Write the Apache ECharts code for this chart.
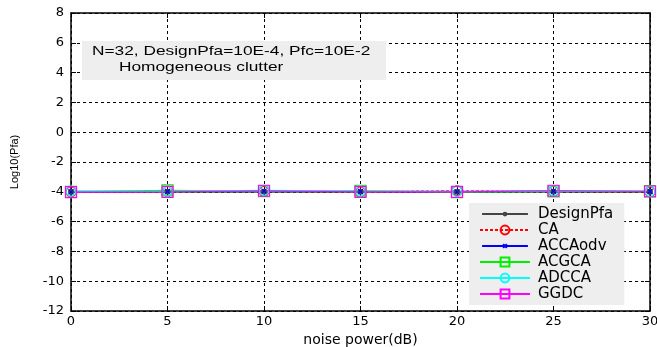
<!DOCTYPE html>
<html><head><meta charset="utf-8">
<script src="https://cdn.jsdelivr.net/npm/echarts@6/dist/echarts.min.js"></script>
<style>html,body{margin:0;padding:0;background:#fff}#c{width:657px;height:347px}</style>
</head><body><div id="c"></div>
<script>
const noisePower = [0, 5, 10, 15, 20, 25, 30];
const designPfa = [-4, -4, -4, -4, -4, -4, -4];
const caVals = [-4.0, -3.98, -3.97, -4.0, -3.93, -3.97, -4.0];
const accaodvVals = [-4.0, -3.98, -3.95, -3.98, -4.0, -3.95, -3.98];
const acgcaVals = [-4.0, -3.9, -3.95, -3.93, -4.02, -3.97, -3.95];
const adccaVals = [-3.95, -3.97, -3.9, -3.95, -3.97, -3.93, -3.97];
const ggdcVals = [-4.02, -4.0, -3.93, -4.0, -4.0, -3.93, -3.98];
const yTicks = [-12, -10, -8, -6, -4, -2, 0, 2, 4, 6, 8];
const xTicks = [0, 5, 10, 15, 20, 25, 30];
const infoLines = ['N=32, DesignPfa=10E-4, Pfc=10E-2', 'Homogeneous clutter'];

const FONT = '"Liberation Sans", Arial, sans-serif';
const WFONT = '"DejaVu Sans", sans-serif';
const pair = (xs, ys) => xs.map((x, i) => [x, ys[i]]);
const xMark = 'path://M0,0L10,10M10,0L0,10';
const dotLegendIcon = 'path://M25,0M25,12M0,6L50,6M23.5,6a1.5,1.5 0 1,0 3,0a1.5,1.5 0 1,0 -3,0Z';
const xLegendIcon = 'path://M25,0M25,12M0,6L50,6M23,4L27,8M27,4L23,8';

function mk(name, vals, color, symbol, size, dashed, filled, width) {
  return {
    name, type: 'line', data: pair(noisePower, vals),
    symbol, symbolSize: size, showSymbol: true,
    lineStyle: { color, width: width || 1.2, type: dashed ? [3, 2] : 'solid' },
    itemStyle: { color: filled ? color : 'none', borderColor: color, borderWidth: width || 1.2 },
    emphasis: { disabled: true }, animation: false, z: 3
  };
}

const chart = echarts.init(document.getElementById('c'));
const axisCommon = {
  axisLine: { show: true, onZero: false, lineStyle: { color: '#000', width: 1.5 } },
  axisTick: { show: true, inside: true, length: 5, lineStyle: { color: '#000' } },
  splitLine: { show: false }
};
chart.setOption({
  animation: false,
  backgroundColor: '#fff',
  grid: { left: 71, right: 7, top: 13, bottom: 36, outerBoundsMode: 'none', containLabel: false },
  xAxis: [
    Object.assign({}, axisCommon, {
      type: 'value', min: 0, max: 30, interval: 5,
      name: 'noise power(dB)', nameLocation: 'middle', nameGap: 18,
      nameTextStyle: { fontFamily: WFONT, fontSize: 14, color: '#000' },
      axisLabel: { fontFamily: WFONT, fontSize: 13, color: '#000', margin: 4,
        formatter: v => xTicks.includes(v) ? String(v) : '' },
      splitLine: { show: true, lineStyle: { color: '#000', type: [3, 3], width: 1 } }
    }),
    Object.assign({}, axisCommon, {
      type: 'value', min: 0, max: 30, interval: 5, position: 'top',
      axisLabel: { show: false }
    })
  ],
  yAxis: [
    Object.assign({}, axisCommon, {
      type: 'value', min: -12, max: 8, interval: 2,
      name: 'Log10(Pfa)', nameLocation: 'middle', nameGap: 51,
      nameTextStyle: { fontFamily: FONT, fontSize: 11, color: '#000' },
      axisLabel: { fontFamily: WFONT, fontSize: 13, color: '#000', margin: 7,
        formatter: v => yTicks.includes(v) ? String(v) : '' },
      splitLine: { show: true, lineStyle: { color: '#000', type: [3, 3], width: 1 } }
    }),
    Object.assign({}, axisCommon, {
      type: 'value', min: -12, max: 8, interval: 2, position: 'right',
      axisLabel: { show: false }
    })
  ],
  legend: {
    orient: 'vertical', left: 469, top: 203,
    backgroundColor: '#eeeeee', padding: [3, 11, 3, 10],
    itemWidth: 50, itemHeight: 11, itemGap: 0,
    textStyle: { fontFamily: WFONT, fontSize: 15, lineHeight: 16, color: '#000', padding: [0, 0, 0, 3] },
    data: [
      { name: 'DesignPfa', icon: dotLegendIcon },
      'CA',
      { name: 'ACCAodv', icon: xLegendIcon },
      'ACGCA', 'ADCCA', 'GGDC'
    ]
  },
  graphic: [{
    type: 'group', left: 82, top: 41, z: 100,
    children: [
      { type: 'rect', shape: { x: 0, y: 0, width: 304, height: 39 }, style: { fill: '#eeeeee' }, z: 100 },
      { type: 'text', x: 10, y: 4, scaleX: 1.33, z: 101, style: { text: infoLines[0], font: '13px ' + FONT, fill: '#000' } },
      { type: 'text', x: 37, y: 20, scaleX: 1.33, z: 101, style: { text: infoLines[1], font: '13px ' + FONT, fill: '#000' } }
    ]
  }],
  series: [
    mk('DesignPfa', designPfa, '#444', 'circle', 4, false, true, 2),
    mk('CA', caVals, '#ff0000', 'circle', 10, true, false),
    mk('ACCAodv', accaodvVals, '#0000ff', xMark, 5, false, false),
    mk('ACGCA', acgcaVals, '#00ee00', 'rect', 11, false, false),
    mk('ADCCA', adccaVals, '#00ffff', 'circle', 10, false, false),
    mk('GGDC', ggdcVals, '#ff00ff', 'rect', 11, false, false)
  ]
});
</script></body></html>
